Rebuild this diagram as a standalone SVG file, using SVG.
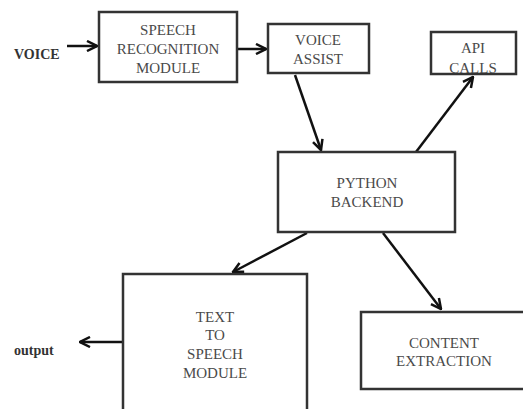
<svg xmlns="http://www.w3.org/2000/svg" width="523" height="409" viewBox="0 0 523 409">
<defs>
<style>
.box{fill:#fff;stroke:#333;stroke-width:2.5}
.t{font-family:'Liberation Serif','Times New Roman','DejaVu Serif',serif;font-size:15px;fill:#4a4a4a;text-anchor:middle}
.lbl{font-family:'Liberation Serif','Times New Roman','DejaVu Serif',serif;font-size:14px;font-weight:bold;fill:#333}
.c{stroke:#111;stroke-width:2.5;fill:none;marker-end:url(#ah)}
</style>
<marker id="ah" viewBox="0 0 10 10" refX="9" refY="5" markerWidth="5" markerHeight="5" orient="auto" markerUnits="strokeWidth">
<path d="M1,1 L9,5 L1,9" fill="none" stroke="#111" stroke-width="2"/>
</marker>
</defs>
<rect width="523" height="409" fill="#fff"/>
<g id="connectors">
<line class="c" x1="67" y1="46" x2="97" y2="46"/>
<line class="c" x1="238" y1="49" x2="266" y2="49"/>
<line class="c" x1="295" y1="75" x2="321" y2="150"/>
<line class="c" x1="416" y1="152" x2="473" y2="77"/>
<line class="c" x1="307" y1="233" x2="233" y2="272"/>
<line class="c" x1="383" y1="233" x2="441" y2="309"/>
<line class="c" x1="122" y1="342" x2="80" y2="342"/>
</g>
<g id="voice"><text class="lbl" x="14" y="59">VOICE</text></g>
<g id="speech-recognition">
<rect class="box" x="99" y="12" width="138" height="70"/>
<text class="t" x="168" y="35">SPEECH</text>
<text class="t" x="168" y="54">RECOGNITION</text>
<text class="t" x="168" y="73">MODULE</text>
</g>
<g id="voice-assist">
<rect class="box" x="268" y="24" width="101" height="49"/>
<text class="t" x="318" y="45">VOICE</text>
<text class="t" x="318" y="64">ASSIST</text>
</g>
<g id="api-calls">
<rect class="box" x="431" y="32" width="85" height="42"/>
<text class="t" x="473" y="53">API</text>
<text class="t" x="473" y="73">CALLS</text>
</g>
<g id="python-backend">
<rect class="box" x="278" y="152" width="177" height="80"/>
<text class="t" x="367" y="188">PYTHON</text>
<text class="t" x="367" y="207">BACKEND</text>
</g>
<g id="tts">
<rect class="box" x="123" y="274" width="184" height="150"/>
<text class="t" x="215" y="322">TEXT</text>
<text class="t" x="215" y="340">TO</text>
<text class="t" x="215" y="359">SPEECH</text>
<text class="t" x="215" y="378">MODULE</text>
</g>
<g id="content-extraction">
<rect class="box" x="361" y="312" width="175" height="77"/>
<text class="t" x="444" y="348">CONTENT</text>
<text class="t" x="444" y="366">EXTRACTION</text>
</g>
<g id="output"><text class="lbl" x="14" y="355">output</text></g>
</svg>
